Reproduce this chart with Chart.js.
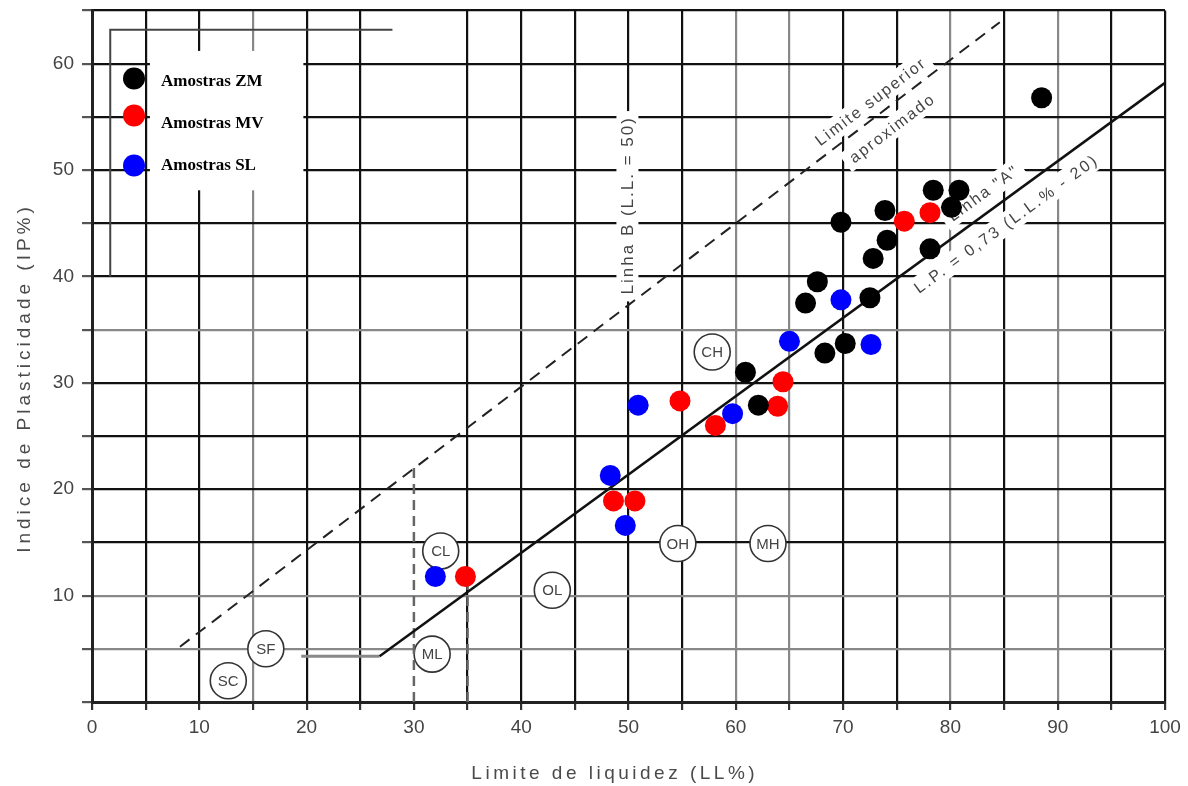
<!DOCTYPE html>
<html>
<head>
<meta charset="utf-8">
<script src="https://cdn.jsdelivr.net/npm/chart.js@4"></script>
<style>
	body { margin: 0; background: #fff; }
	canvas { display: block; }
</style>
</head>
<body>
<canvas id="chart" width="1188" height="786"></canvas>
<script>
// amostras (LL %, IP %)
const zmLL = [88.5, 78.4, 80.8, 80.1, 73.9, 69.8, 74.1, 78.1, 72.8, 67.6, 66.5, 72.5, 70.2, 68.3, 60.9, 62.1];
const zmIP = [56.8, 48.1, 48.1, 46.5, 46.2, 45.1, 43.4, 42.6, 41.7, 39.5, 37.5, 38.0, 33.7, 32.8, 31.0, 27.9];
const mvLL = [75.7, 78.1, 54.8, 58.1, 64.4, 63.9, 48.6, 50.6, 34.8];
const mvIP = [45.2, 46.0, 28.3, 26.0, 30.1, 27.8, 18.9, 18.9, 11.8];
const slLL = [69.8, 65.0, 72.6, 50.9, 59.7, 48.3, 49.7, 32.0];
const slIP = [37.8, 33.9, 33.6, 27.9, 27.1, 21.3, 16.6, 11.8];

// linhas da carta
const aLineLL = [26.8, 100];
const aLineIP = [4.3, 58.2];
const aBaseLL = [19.5, 26.8];
const aBaseIP = [4.3, 4.3];
const uLineLL = [8.2, 84.6];
const uLineIP = [5.2, 63.9];
const dash30LL = [30, 30];
const dash30IP = [0, 22];
const dash35LL = [35, 35];
const dash35IP = [0, 11];

// zonas
const zoneNames = ['CH', 'CL', 'ML', 'OL', 'OH', 'MH', 'SF', 'SC'];
const zoneLL = [57.8, 32.5, 31.7, 42.9, 54.6, 63.0, 16.2, 12.7];
const zoneIP = [32.9, 14.2, 4.5, 10.5, 14.9, 14.9, 5.0, 2.0];

const toPts = (xs, ys) => xs.map((x, i) => ({ x: x, y: ys[i] }));

const grayX = [15, 60, 65, 80, 90];
const grayY = [5, 10, 35];

function spacedText(ctx, text, x, y, angle, font, spacing, color, bg) {
	ctx.save();
	ctx.translate(x, y);
	ctx.rotate(angle);
	ctx.font = font;
	ctx.letterSpacing = spacing + 'px';
	ctx.textAlign = 'center';
	ctx.textBaseline = 'middle';
	if (bg) {
		let w = ctx.measureText(text).width;
		ctx.fillStyle = '#fff';
		ctx.fillRect(-w / 2 - 6, -11, w + 12, 22);
	}
	ctx.fillStyle = color;
	ctx.fillText(text, spacing / 2, 1);
	ctx.restore();
}

const decor = {
	id: 'decor',
	beforeDatasetsDraw(chart) {
		const ctx = chart.ctx, xs = chart.scales.x, ys = chart.scales.y;
		const px = v => xs.getPixelForValue(v), py = v => ys.getPixelForValue(v);

		// moldura interna (scan)
		ctx.save();
		ctx.strokeStyle = '#444';
		ctx.lineWidth = 2;
		ctx.beginPath();
		ctx.moveTo(px(1.7), py(40));
		ctx.lineTo(px(1.7), py(63.2));
		ctx.lineTo(px(28), py(63.2));
		ctx.stroke();

		// caixa da legenda
		ctx.fillStyle = '#fff';
		ctx.fillRect(px(5.4), py(61.2), px(19.7) - px(5.4), py(48.1) - py(61.2));
		ctx.restore();

		// textos das linhas
		const uAng = Math.atan2(py(uLineIP[1]) - py(uLineIP[0]), px(uLineLL[1]) - px(uLineLL[0]));
		const aAng = Math.atan2(py(aLineIP[1]) - py(aLineIP[0]), px(aLineLL[1]) - px(aLineLL[0]));
		const f = '16px "Liberation Sans"';
		spacedText(ctx, 'Limite superior', px(72.5), py(56.4), uAng, f, 2, '#444', true);
		spacedText(ctx, 'aproximado', px(74.5), py(53.9), uAng, f, 2, '#444', true);
		spacedText(ctx, 'Linha "A"', px(83.0), py(47.8), aAng, f, 2, '#444', true);
		spacedText(ctx, 'L.P. = 0,73 (L.L.% - 20)', px(85.1), py(44.9), aAng, f, 2.5, '#444', true);
		spacedText(ctx, 'Linha B (L.L. = 50)', px(49.9), py(46.6), -Math.PI / 2, '17px "Liberation Sans"', 2, '#444', true);

		// circulos das zonas
		zoneNames.forEach((n, i) => {
			let cx = px(zoneLL[i]), cy = py(zoneIP[i]);
			ctx.save();
			ctx.beginPath();
			ctx.arc(cx, cy, 18, 0, Math.PI * 2);
			ctx.fillStyle = '#fff';
			ctx.fill();
			ctx.lineWidth = 1.6;
			ctx.strokeStyle = '#333';
			ctx.stroke();
			ctx.font = '15px "Liberation Sans"';
			ctx.fillStyle = '#444';
			ctx.textAlign = 'center';
			ctx.textBaseline = 'middle';
			ctx.fillText(n, cx, cy + 1);
			ctx.restore();
		});
	},
	afterDatasetsDraw(chart) {
		const ctx = chart.ctx, area = chart.chartArea;
		// legenda
		const rows = [[68, 71], [105, 113], [155, 155]];
		chart.data.datasets.slice(0, 3).forEach((ds, i) => {
			ctx.save();
			ctx.beginPath();
			ctx.arc(area.left + 42, area.top + rows[i][0], 11, 0, Math.PI * 2);
			ctx.fillStyle = ds.backgroundColor;
			ctx.fill();
			ctx.font = 'bold 17px "Liberation Serif"';
			ctx.fillStyle = '#000';
			ctx.textBaseline = 'middle';
			ctx.fillText(ds.label, area.left + 69, area.top + rows[i][1]);
			ctx.restore();
		});
	},
	afterDraw(chart) {
		const ctx = chart.ctx;
		spacedText(ctx, 'Limite de liquidez (LL%)', 613, 773, 0, '19px "Liberation Sans"', 3.5, '#4a4a4a', false);
		spacedText(ctx, 'Indice de Plasticidade (IP%)', 24, 380, -Math.PI / 2, '19px "Liberation Sans"', 4, '#4a4a4a', false);
	}
};

const lineDs = (xs, ys, color, width, dash) => ({
	type: 'line',
	data: toPts(xs, ys),
	borderColor: color,
	borderWidth: width,
	borderDash: dash || [],
	pointRadius: 0,
	fill: false
});

new Chart(document.getElementById('chart'), {
	type: 'scatter',
	data: {
		datasets: [
			{ label: 'Amostras ZM', data: toPts(zmLL, zmIP), backgroundColor: '#000', pointRadius: 10.5, borderWidth: 0 },
			{ label: 'Amostras MV', data: toPts(mvLL, mvIP), backgroundColor: '#ff0000', pointRadius: 10.5, borderWidth: 0 },
			{ label: 'Amostras SL', data: toPts(slLL, slIP), backgroundColor: '#0000ff', pointRadius: 10.5, borderWidth: 0 },
			lineDs(aLineLL, aLineIP, '#111', 2.5),
			lineDs(aBaseLL, aBaseIP, '#888', 3),
			lineDs(uLineLL, uLineIP, '#222', 2, [12, 8]),
			lineDs(dash30LL, dash30IP, '#666', 2.5, [10, 6]),
			lineDs(dash35LL, dash35IP, '#666', 2.5, [10, 6])
		]
	},
	options: {
		responsive: false,
		animation: false,
		layout: { padding: { top: 6, right: 23, left: 0, bottom: 0 } },
		plugins: { legend: { display: false }, tooltip: { enabled: false } },
		scales: {
			x: {
				min: 0, max: 100,
				afterFit: s => { s.height = 84; s.paddingLeft = 0; s.paddingRight = 0; },
				border: { color: '#222', width: 3 },
				grid: {
					color: c => c.tick.value === 30 ? 'rgba(0,0,0,0)' : (grayX.includes(c.tick.value) ? '#888' : '#111'),
					lineWidth: 2.2,
					tickLength: 8,
					tickColor: '#333'
				},
				ticks: {
					stepSize: 5,
					autoSkip: false,
					maxRotation: 0,
					padding: 6,
					color: '#444',
					font: { family: 'Liberation Sans', size: 19 },
					callback: v => v % 10 === 0 ? v : ''
				}
			},
			y: {
				min: 0, max: 65,
				afterFit: s => { s.width = 92; s.paddingTop = 0; s.paddingBottom = 0; },
				border: { color: '#222', width: 3 },
				grid: {
					color: c => grayY.includes(c.tick.value) ? '#888' : '#111',
					lineWidth: 2.2,
					tickLength: 10,
					tickColor: '#555'
				},
				ticks: {
					stepSize: 5,
					autoSkip: false,
					padding: 8,
					color: '#444',
					font: { family: 'Liberation Sans', size: 19 },
					callback: v => (v % 10 === 0 && v !== 0) ? v : ''
				}
			}
		}
	},
	plugins: [decor]
});
</script>
</body>
</html>
